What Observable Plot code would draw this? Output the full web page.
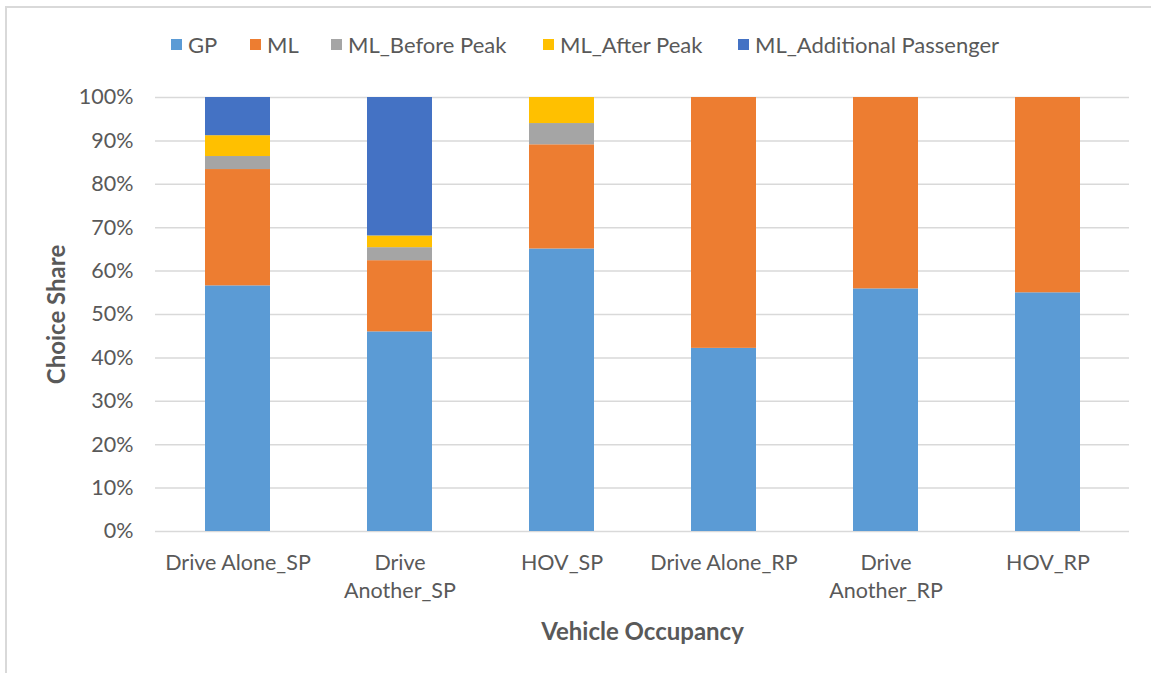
<!DOCTYPE html>
<html>
<head>
<meta charset="utf-8">
<script src="https://cdn.jsdelivr.net/npm/d3@7"></script>
<script src="https://cdn.jsdelivr.net/npm/@observablehq/plot@0.6"></script>
<style>
  html, body { margin: 0; padding: 0; background: #fff; }
  #wrap { position: relative; width: 1151px; height: 673px; overflow: hidden; font-family: Lato, "Open Sans", sans-serif; }
  #frame { position: absolute; left: 5px; top: 6px; width: 1200px; height: 700px; border-left: 2px solid #d9d9d9; border-top: 2px solid #d9d9d9; box-sizing: border-box; }
  #legend { position: absolute; top: 31px; left: 0; width: 1151px; height: 28px; }
  .item { position: absolute; top: 0; display: flex; align-items: center; font-size: 22px; color: #595959; white-space: nowrap; }
  .sw { width: 11px; height: 11px; margin-right: 6px; display: inline-block; }
  #chart { position: absolute; left: 0; top: 0; }
  #chart svg text { font-family: Lato, "Open Sans", sans-serif; }
</style>
</head>
<body>
<div id="wrap">
  <div id="frame"></div>
  <div id="chart"></div>
  <div id="legend"></div>
</div>
<script>
const categories = ["Drive Alone_SP", "Drive Another_SP", "HOV_SP", "Drive Alone_RP", "Drive Another_RP", "HOV_RP"];
const tickLabels = ["Drive Alone_SP", "Drive\nAnother_SP", "HOV_SP", "Drive Alone_RP", "Drive\nAnother_RP", "HOV_RP"];
const series = ["GP", "ML", "ML_Before Peak", "ML_After Peak", "ML_Additional Passenger"];
const colors = ["#5B9BD5", "#ED7D31", "#A5A5A5", "#FFC000", "#4472C4"];
const GP          = [0.566, 0.460, 0.651, 0.422, 0.559, 0.550];
const ML          = [0.268, 0.164, 0.240, 0.578, 0.441, 0.450];
const beforePeak  = [0.030, 0.030, 0.049, 0, 0, 0];
const afterPeak   = [0.048, 0.027, 0.060, 0, 0, 0];
const additional  = [0.088, 0.319, 0, 0, 0, 0];
const yTicks = [0, 0.1, 0.2, 0.3, 0.4, 0.5, 0.6, 0.7, 0.8, 0.9, 1.0];

const seriesValues = [GP, ML, beforePeak, afterPeak, additional];
const data = [];
categories.forEach((c, i) => {
  series.forEach((s, j) => {
    data.push({category: c, series: s, value: seriesValues[j][i]});
  });
});
const labelOf = new Map(categories.map((c, i) => [c, tickLabels[i]]));

const chart = Plot.plot({
  width: 1151,
  height: 673,
  marginLeft: 155,
  marginRight: 22,
  marginTop: 97,
  marginBottom: 142,
  style: {fontSize: "21.5px", color: "#595959", background: "transparent", overflow: "visible"},
  x: {domain: categories, paddingInner: 0.6, paddingOuter: 0.3, label: null},
  y: {domain: [0, 1], label: null},
  color: {domain: series, range: colors},
  marks: [
    Plot.gridY(yTicks, {stroke: "#d9d9d9", strokeOpacity: 1, strokeWidth: 1.5}),
    Plot.barY(data, Plot.stackY({order: null}, {x: "category", y: "value", fill: "series"})),
    Plot.axisX({tickSize: 0, tickPadding: 19, tickFormat: d => labelOf.get(d), fill: "#595959", fontSize: 21.5, lineHeight: 1.3, label: null}),
    Plot.axisY(yTicks, {tickSize: 0, tickPadding: 22, tickFormat: d3.format(".0%"), fill: "#595959", fontSize: 21.5, label: null}),
    Plot.text(["Vehicle Occupancy"], {frameAnchor: "bottom", dy: 108, text: d => d, fontWeight: "bold", fontSize: 24, fill: "#595959"}),
    Plot.text(["Choice Share"], {frameAnchor: "left", dx: -98, rotate: -90, textAnchor: "middle", text: d => d, fontWeight: "bold", fontSize: 24, fill: "#595959"})
  ]
});
document.getElementById("chart").appendChild(chart);

const legendPos = [171, 250, 331, 543, 738];
const legend = document.getElementById("legend");
series.forEach((s, i) => {
  const item = document.createElement("div");
  item.className = "item";
  item.style.left = legendPos[i] + "px";
  const sw = document.createElement("span");
  sw.className = "sw";
  sw.style.background = colors[i];
  item.appendChild(sw);
  item.appendChild(document.createTextNode(s));
  legend.appendChild(item);
});
</script>
</body>
</html>
